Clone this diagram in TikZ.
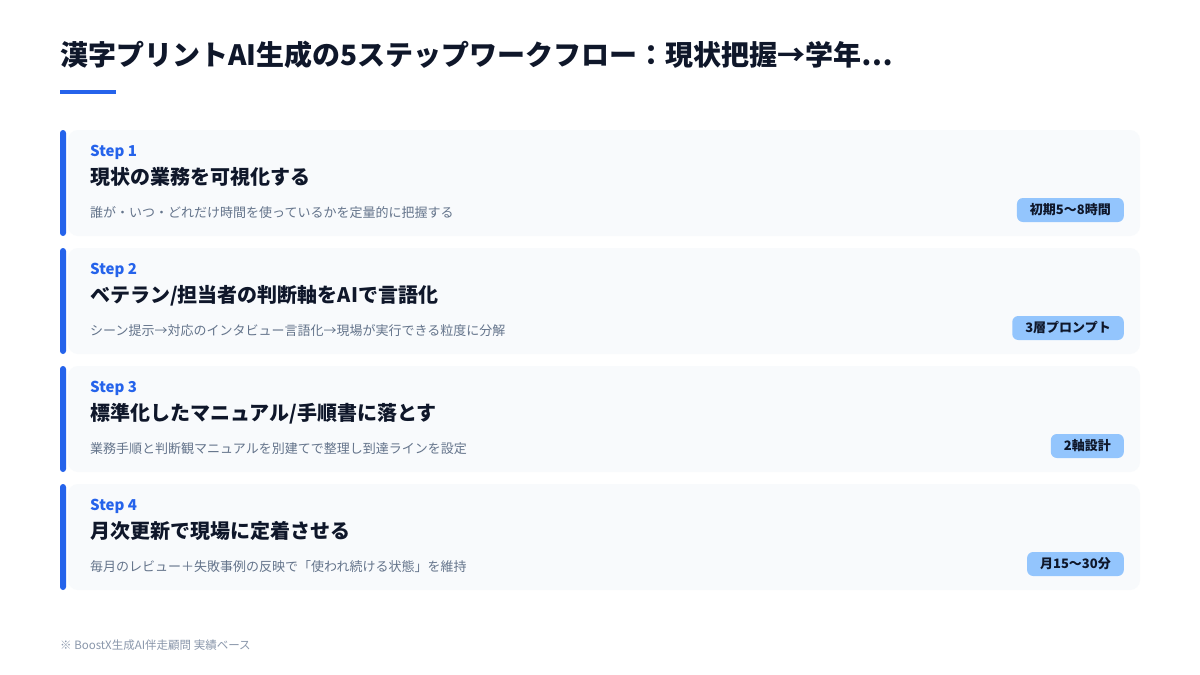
\documentclass[tikz,border=0pt]{standalone}
\usepackage{fontspec}
\setmainfont{Noto Sans CJK JP}
\usepackage{tikz}
\usetikzlibrary{positioning}

\definecolor{accent}{HTML}{2563EB}
\definecolor{cardbg}{HTML}{F8FAFC}
\definecolor{ink}{HTML}{0F172A}
\definecolor{muted}{HTML}{64748B}
\definecolor{faint}{HTML}{8A97AB}
\definecolor{badgebg}{HTML}{93C5FD}

\begin{document}
\begin{tikzpicture}[x=1pt, y=-1pt,
		card/.style={fill=cardbg, rounded corners=10pt},
		bar/.style={fill=accent, rounded corners=3pt},
		steplabel/.style={anchor=base west, inner sep=0pt, text=accent, font=\fontsize{15}{18}\selectfont\bfseries},
		heading/.style={anchor=base west, inner sep=0pt, text=ink, font=\fontsize{20}{24}\selectfont\bfseries},
		desc/.style={anchor=base west, inner sep=0pt, text=muted, font=\fontsize{13}{16}\selectfont},
		badge/.style={anchor=east, fill=badgebg, rounded corners=6pt, inner xsep=13pt, inner ysep=0pt,
			minimum height=24pt, text height=10pt, text depth=2pt, text=ink, font=\fontsize{13}{16}\selectfont\bfseries}]

				\useasboundingbox [fill=white] (0,0) rectangle (1200,675);

				\node [anchor=base west, inner sep=0pt, text=ink, font=\fontsize{28}{34}\selectfont\bfseries]
					(title) at (60,65.5) {漢字プリントAI生成の5ステップワークフロー：現状把握→学年…};
				\fill [accent] (60,90) rectangle (116,94);

				\foreach \y in {130,248,366,484} {
					\fill [card] (68,\y) rectangle (1140,\y+106);
					\fill [bar]  (60,\y) rectangle (66,\y+106);
				}

				\node [steplabel] (step1) at (90,156.5) {Step 1};
				\node [heading]   (head1) at (90,184.6) {現状の業務を可視化する};
				\node [desc]      (desc1) at (90,217)   {誰が・いつ・どれだけ時間を使っているかを定量的に把握する};
				\node [badge]     (badge1) at (1124,210) {初期5〜8時間};

				\node [steplabel] (step2) at (90,274.5) {Step 2};
				\node [heading]   (head2) at (90,302.6) {ベテラン/担当者の判断軸をAIで言語化};
				\node [desc]      (desc2) at (90,335)   {シーン提示→対応のインタビュー言語化→現場が実行できる粒度に分解};
				\node [badge]     (badge2) at (1124,328) {3層プロンプト};

				\node [steplabel] (step3) at (90,392.5) {Step 3};
				\node [heading]   (head3) at (90,420.6) {標準化したマニュアル/手順書に落とす};
				\node [desc]      (desc3) at (90,453)   {業務手順と判断観マニュアルを別建てで整理し到達ラインを設定};
				\node [badge]     (badge3) at (1124,446) {2軸設計};

				\node [steplabel] (step4) at (90,510.5) {Step 4};
				\node [heading]   (head4) at (90,538.6) {月次更新で現場に定着させる};
				\node [desc]      (desc4) at (90,571)   {毎月のレビュー＋失敗事例の反映で「使われ続ける状態」を維持};
				\node [badge]     (badge4) at (1124,564) {月15〜30分};

				\node [anchor=base west, inner sep=0pt, text=faint, font=\fontsize{11.5}{14}\selectfont]
					(note) at (60,649) {※ BoostX生成AI伴走顧問 実績ベース};

\end{tikzpicture}
\end{document}
